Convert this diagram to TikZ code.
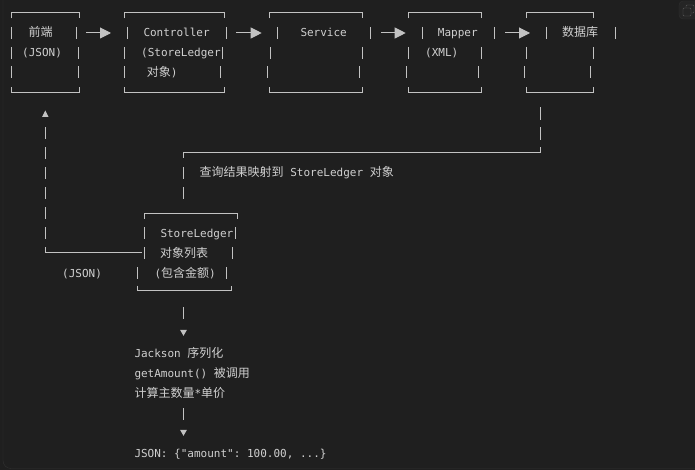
\documentclass[tikz,border=0pt]{standalone}
\usepackage{fontspec}
\setmonofont{DejaVu Sans Mono}
\newfontfamily\zhfont{Noto Sans CJK SC}
\usetikzlibrary{arrows.meta, positioning}
\definecolor{codebg}{HTML}{1F1F1F}
\definecolor{codefg}{HTML}{D0D0D0}
\definecolor{rulefg}{HTML}{C2C2C2}
\definecolor{frameln}{HTML}{303030}
\definecolor{btnbg}{HTML}{252525}
\definecolor{iconfg}{HTML}{5A5A5A}
\newcommand{\zh}[1]{{\zhfont\fontsize{12}{14}\selectfont #1}}
\tikzset{
  txt/.style={anchor=west, inner sep=0pt, text height=8pt, text depth=0pt,
    text=codefg, font=\ttfamily\fontsize{11}{14}\selectfont},
  box/.style={anchor=north west, inner sep=0pt, minimum height=79pt},
  linework/.style={draw=rulefg, line width=1pt},
  arr/.style={linework, -{Triangle[length=11pt, width=11pt]}},
  tipup/.style={-{Triangle[length=6.5pt, width=6.2pt]}},
  tipdown/.style={-{Triangle[length=6pt, width=6.7pt]}},
}

\begin{document}
\begin{tikzpicture}[x=1pt, y=-1pt]
  \fill[codebg] (0,0) rectangle (695,470);
  \useasboundingbox (0,0) rectangle (695,470);
  \draw[frameln, rounded corners=8pt] (3,-20) rectangle (720,468.5);

  % copy button
  \draw[draw=frameln, fill=btnbg, rounded corners=4pt] (679,1) rectangle (712,19);
  \draw[iconfg, rounded corners=1pt] (686,5) rectangle (694,13);
  \draw[iconfg, fill=btnbg, rounded corners=1pt] (683,8) rectangle (691,16);

  % boxes
  \node[box, minimum width=67pt] (front) at (11.7,12.7) {};
  \node[box, minimum width=100pt] (ctrl) at (124,12.7) {};
  \node[box, minimum width=93pt] (service) at (269.3,12.7) {};
  \node[box, minimum width=73.3pt] (mapper) at (408,12.7) {};
  \node[box, minimum width=66.6pt] (db) at (526.7,12.7) {};
  \node[box, minimum width=93.3pt, minimum height=76.7pt] (ledger) at (144,213.3) {};

  \foreach \b/\s in {front/0pt, ctrl/0pt, service/0pt, mapper/0pt, db/0pt, ledger/-6.5pt} {
    \draw[linework] ([yshift=-5.6pt]\b.north west) -- (\b.north west) -- (\b.north east) -- ([yshift=-5.6pt]\b.north east);
    \draw[linework] ([xshift=\s, yshift=4.7pt]\b.south west) -- ([xshift=\s]\b.south west) -- ([xshift=\s]\b.south east) -- ([xshift=\s, yshift=4.7pt]\b.south east);
  }

  % side bars, one per text row
  \foreach \x/\y in {11.7/33, 76/33, 11.7/53, 78.7/53, 11.7/72.3, 78.7/72.3,
      127.7/33, 226.7/33, 124/53, 222.7/53, 124/72.3, 220.7/72.3,
      277.7/33, 370.5/33, 270/53, 362.3/53, 267.3/72.3, 359.6/72.3,
      422/33, 494.7/33, 408/53, 481.3/53, 406/72.3, 478.3/72.3,
      546/33, 615.3/33, 526.7/53, 593.3/53, 524/72.3, 590.7/72.3,
      144/233, 235.3/233, 144/253, 232.3/253, 137.7/273, 226/273}
    \draw[linework] (\x,\y-6) -- (\x,\y+6);

  % texts
  \node[txt] (front1) at (28.5,33) {\zh{前端}};
  \node[txt] (front2) at (22,53) {(JSON)};
  \node[txt] (ctrl1) at (143.3,33) {Controller};
  \node[txt] (ctrl2) at (141,53) {(StoreLedger};
  \node[txt] (ctrl3) at (146.7,72.3) {\zh{对象})};
  \node[txt] (service1) at (300.3,33) {Service};
  \node[txt] (mapper1) at (437.7,33) {Mapper};
  \node[txt] (mapper2) at (425,53) {(XML)};
  \node[txt] (db1) at (562,33) {\zh{数据库}};
  \node[txt] (mapnote) at (199.5,173) {\zh{查询结果映射到} StoreLedger \zh{对象}};
  \node[txt] (ledger1) at (160.3,233) {StoreLedger};
  \node[txt] (ledger2) at (160,253) {\zh{对象列表}};
  \node[txt] (ledger3) at (154.3,273) {(\zh{包含金额})};
  \node[txt] (jsonnote) at (62,273) {(JSON)};
  \node[txt] (jackson1) at (134.3,353) {Jackson \zh{序列化}};
  \node[txt, below right=12pt and 0pt of jackson1.south west] (jackson2) {getAmount() \zh{被调用}};
  \node[txt, below right=12pt and 0pt of jackson2.south west] (jackson3) {\zh{计算主数量}*\zh{单价}};
  \node[txt] (result) at (134.3,453) {JSON: \{"amount": 100.00, ...\}};

  % request flow
  \draw[arr, shorten <=7.3pt, shorten >=13pt] (front.east |- front1.west) -- (ctrl.west |- front1.west);
  \draw[arr, shorten <=12pt, shorten >=7.6pt] (ctrl.east |- front1.west) -- (service.west |- front1.west);
  \draw[arr, shorten <=18.4pt, shorten >=2.3pt] (service.east |- front1.west) -- (mapper.west |- front1.west);
  \draw[arr, shorten <=23.4pt, shorten >=-3.3pt] (mapper.east |- front1.west) -- (db.west |- front1.west);

  % result back to the ledger list
  \coordinate (dbturn) at (540,152.3);
  \coordinate (ledgerturn) at (183.5,152.3);
  \draw[linework, shorten <=15.3pt,
    dash pattern=on 13pt off 7pt on 13pt off 7pt on 367.5pt off 9pt on 12pt off 8pt on 12pt off 40pt]
    (db.south -| dbturn) -- (dbturn) -- (ledgerturn) -- (ledgerturn |- ledger.north);

  % list back to the front end
  \coordinate (frontturn) at (45.3,252.3);
  \draw[linework, tipup, shorten <=2.3pt, shorten >=18.3pt,
    dash pattern=on 101.7pt off 8pt on 12pt off 8pt on 12pt off 8pt on 12pt off 8pt on 12pt off 8pt on 12pt off 8pt on 12pt off 40pt]
    (ledger.west |- frontturn) -- (frontturn) -- (frontturn |- front.south);

  % serialisation
  \draw[linework, tipdown, dash pattern=on 12pt off 40pt, shorten <=17pt, shorten >=13pt]
    (ledger.south -| ledgerturn) -- (jackson1.north -| ledgerturn);
  \draw[linework, tipdown, dash pattern=on 12pt off 40pt, shorten <=10pt, shorten >=13pt]
    (jackson3.south -| ledgerturn) -- (result.north -| ledgerturn);
\end{tikzpicture}
\end{document}
